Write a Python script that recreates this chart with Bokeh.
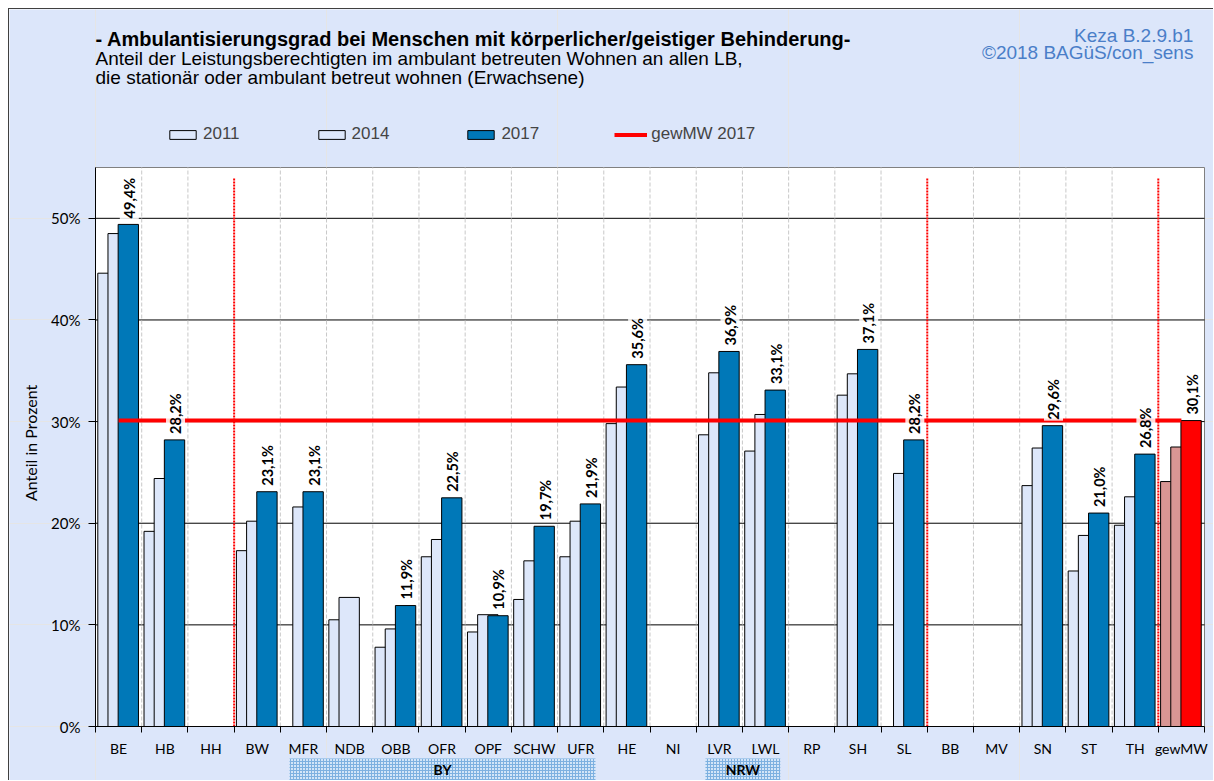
import numpy as np
from bokeh.plotting import figure
from bokeh.models import (Range1d, FixedTicker, LinearAxis, ColumnDataSource,
                          BoxAnnotation, Label, Legend, LegendItem, PrintfTickFormatter)
from bokeh.transform import dodge
from bokeh.core.properties import value
from bokeh.embed import file_html
from bokeh.resources import INLINE

nan = float("nan")
categories = ["BE", "HB", "HH", "BW", "MFR", "NDB", "OBB", "OFR", "OPF", "SCHW", "UFR", "HE",
              "NI", "LVR", "LWL", "RP", "SH", "SL", "BB", "MV", "SN", "ST", "TH", "gewMW"]
v2011 = [44.6, 19.2, nan, 17.3, nan, 10.5, 7.8, 16.7, 9.3, 12.5, 16.7, 29.8,
         nan, 28.7, 27.1, nan, 32.6, nan, nan, nan, 23.7, 15.3, 19.8, 24.1]
v2014 = [48.5, 24.4, nan, 20.2, 21.6, 12.7, 9.6, 18.4, 11.0, 16.3, 20.2, 33.4,
         nan, 34.8, 30.7, nan, 34.7, 24.9, nan, nan, 27.4, 18.8, 22.6, 27.5]
v2017 = [49.4, 28.2, nan, 23.1, 23.1, nan, 11.9, 22.5, 10.9, 19.7, 21.9, 35.6,
         nan, 36.9, 33.1, nan, 37.1, 28.2, nan, nan, 29.6, 21.0, 26.8, 30.1]
y_ticks = [0, 10, 20, 30, 40, 50]
y_max = 55
region_ends = ["HH", "SL", "TH"]
groups = [("BY", "MFR", "UFR"), ("NRW", "LVR", "LWL")]
mean_cat = "gewMW"

FONT = "Lato"
BG = "#DCE6FA"
LIGHT = "#DDE7FA"
DARK = "#0078B8"
MW_LIGHT = "#D99694"
MW_RED = "#FF0000"

n = len(categories)
xs = np.arange(n) + 0.5
is_mw = [c == mean_cat for c in categories]

# canvas geometry: the plot area occupies a sub-rectangle of the canvas
W_PX, H_PX = 1205, 772
PL, PB = 86, 717            # plot-area left / bottom in canvas pixels
PW, PH = 1109, 559          # plot-area width / height in pixels
sx = PW / n
sy = PH / y_max
x_range = Range1d(-PL / sx, (W_PX - PL) / sx)
y_range = Range1d(-(H_PX - PB) / sy, PB / sy)

p = figure(width=W_PX, height=H_PX, x_range=x_range, y_range=y_range,
           output_backend="svg", toolbar_location=None, x_axis_location=None,
           y_axis_location=None, min_border=0, margin=(8, 0, 0, 8))
p.styles = {"border-left": "1px solid #404040", "border-top": "1px solid #404040"}
p.background_fill_color = BG
p.border_fill_color = BG
p.outline_line_color = None

# plot area
p.quad(left=[0], right=[n], bottom=[0], top=[y_max], fill_color="white",
       line_color="#808080", line_width=1)
gl = y_ticks[1:]
p.segment(x0=[0] * len(gl), x1=[n] * len(gl), y0=gl, y1=gl, line_color="black", line_width=1)

breaks = [categories.index(c) + 1 for c in region_ends]
seps = [b for b in range(1, n) if b not in breaks]
p.segment(x0=seps, x1=seps, y0=[0] * len(seps), y1=[y_max] * len(seps),
          line_color="#C8C8C8", line_dash="4 2", line_width=1)

# axes
yaxis = LinearAxis(fixed_location=0, bounds=(0, y_max), ticker=FixedTicker(ticks=y_ticks),
                   formatter=PrintfTickFormatter(format="%d%%"),
                   axis_line_color="black", major_tick_line_color="black",
                   major_tick_out=7, major_tick_in=0, minor_tick_line_color=None,
                   major_label_standoff=8, major_label_text_font=FONT,
                   major_label_text_font_size="15px", major_label_text_color="black")
p.add_layout(yaxis, "left")

xaxis = LinearAxis(fixed_location=0, bounds=(0, n),
                   ticker=FixedTicker(ticks=list(xs), minor_ticks=list(range(n + 1))),
                   major_label_overrides={float(x): c for x, c in zip(xs, categories)},
                   major_tick_line_color=None, major_tick_out=6, major_tick_in=0,
                   minor_tick_out=6, minor_tick_in=0, minor_tick_line_color="black",
                   axis_line_color="black", major_label_standoff=7,
                   major_label_text_font=FONT, major_label_text_font_size="14px",
                   major_label_text_color="black")
p.add_layout(xaxis, "below")

p.add_layout(Label(x=-1.4, y=27.9, text="Anteil in Prozent", angle=np.pi / 2,
                   text_align="center", text_baseline="middle", text_font=FONT,
                   text_font_size="16px", text_color="black"))

src = ColumnDataSource(dict(
    x=xs, v11=v2011, v14=v2014, v17=v2017,
    c_old=[MW_LIGHT if m else LIGHT for m in is_mw],
    c_new=[MW_RED if m else DARK for m in is_mw]))

W = 0.44
r11 = p.vbar(x=dodge("x", -0.23), top="v11", bottom=0, width=W, source=src,
             fill_color="c_old", line_color="black", line_width=1)
r14 = p.vbar(x=dodge("x", -0.01), top="v14", bottom=0, width=W, source=src,
             fill_color="c_old", line_color="black", line_width=1)
r17 = p.vbar(x=dodge("x", 0.21), top="v17", bottom=0, width=W, source=src,
             fill_color="c_new", line_color="black", line_width=1)

p.segment(x0=breaks, x1=breaks, y0=[0] * len(breaks), y1=[y_max - 1] * len(breaks),
          line_color="red", line_dash="2 1", line_width=2)

mw = v2017[categories.index(mean_cat)]
rline = p.line(x=[xs[0], xs[-1]], y=[mw, mw], line_color="red", line_width=4)

# value labels 2017
lab_x, lab_y, lab_t = [], [], []
for x, v in zip(xs, v2017):
    if not np.isnan(v):
        lab_x.append(x + 0.21)
        lab_y.append(v)
        lab_t.append(f"{v:.1f}%".replace(".", ","))
p.text(x="x", y="y", text="t", source=ColumnDataSource(dict(x=lab_x, y=lab_y, t=lab_t)),
       angle=np.pi / 2, text_align="left", text_baseline="middle", y_offset=-5, x_offset=1,
       text_font=value(FONT), text_font_style="bold", text_font_size="14.5px",
       text_color="black", background_fill_color="white", background_fill_alpha=0.85,
       padding=1)

# group boxes below axis
for name, a, b in groups:
    i0, i1 = categories.index(a), categories.index(b)
    p.add_layout(BoxAnnotation(left=i0 + 0.2, right=i1 + 0.82, bottom=-7.0, top=-3.15,
                               fill_color="#D3E5F8", fill_alpha=1, line_color=None,
                               hatch_pattern="+", hatch_color="#7DB0E0", hatch_scale=3,
                               hatch_weight=1, level="underlay"))
    p.add_layout(Label(x=(i0 + 0.2 + i1 + 0.82) / 2, y=-4.25, text=name, text_align="center",
                       text_baseline="middle", text_font=FONT, text_font_style="bold",
                       text_font_size="14px", text_color="black", level="overlay"))

# header texts
p.add_layout(Label(x=0, y=67.69, text="- Ambulantisierungsgrad bei Menschen mit körperlicher/geistiger Behinderung-",
                   text_baseline="middle", text_font="Liberation Sans", text_font_style="bold",
                   text_font_size="20px", text_color="black"))
p.add_layout(Label(x=0, y=65.75, text="Anteil der Leistungsberechtigten im ambulant betreuten Wohnen an allen LB,",
                   text_baseline="middle", text_font="Liberation Sans",
                   text_font_size="19px", text_color="black"))
p.add_layout(Label(x=0, y=63.85, text="die stationär oder ambulant betreut wohnen (Erwachsene)",
                   text_baseline="middle", text_font="Liberation Sans",
                   text_font_size="19px", text_color="black"))
p.add_layout(Label(x=23.76, y=68.0, text="Keza B.2.9.b1", text_align="right",
                   text_baseline="middle", text_font="Liberation Sans",
                   text_font_size="19px", text_color="#4A7EC8"))
p.add_layout(Label(x=23.76, y=66.3, text="©2018 BAGüS/con_sens", text_align="right",
                   text_baseline="middle", text_font="Liberation Sans",
                   text_font_size="19px", text_color="#4A7EC8"))

legend = Legend(items=[LegendItem(label="2011", renderers=[r11]),
                       LegendItem(label="2014", renderers=[r14]),
                       LegendItem(label="2017", renderers=[r17]),
                       LegendItem(label="gewMW 2017", renderers=[rline])],
                orientation="horizontal", location=(157, 637), glyph_width=33, glyph_height=11,
                label_standoff=4, spacing=75, padding=0, margin=0, border_line_color=None,
                background_fill_alpha=0, label_text_font="Liberation Sans",
                label_text_font_size="17px", label_text_baseline="middle")
p.add_layout(legend)

open("out.html", "w").write(file_html(p, INLINE))
